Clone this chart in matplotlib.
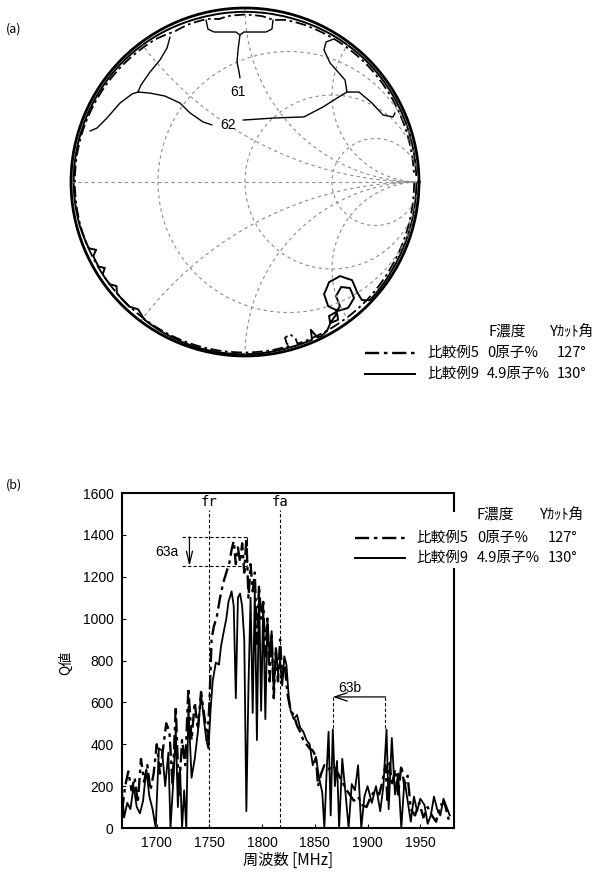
import numpy as np
import matplotlib
matplotlib.use("Agg")
import matplotlib.pyplot as plt
from matplotlib import font_manager as fm
from matplotlib.path import Path
from matplotlib.patches import PathPatch, Rectangle
from matplotlib.lines import Line2D

# ------------------------------------------------------------------ data
# (a) Smith chart grid values
smith_r = [1/3, 1, 3]
smith_x = [0.5, 1, 2, -0.5, -1, -2]

# (a) reflection-coefficient trajectories (angle [deg], |Gamma|)
ex9_ang = [0, -15, -30, -38, -43.4, -45.3, -44.5, -42.5, -44.7, -50.0, -54.8, -56.2,
           -54.2, -50.7, -46.8, -45.3, -47.5, -51.4, -52.6, -55.0, -57.9, -58.9,
           -56.0, -54.9, -58.5, -61.2, -63.6, -65, -66, -67, -75, -90, -105, -118,
           -126, -130, -133, -139, -141, -143, -147, -148.5, -150, -154, -155.5,
           -157, -165, -180, 165, 150, 135, 120, 105, 90, 75, 60, 45, 30, 15, 2]
ex9_mag = [0.985, 0.985, 0.985, 0.987, 0.988, 0.955, 0.902, 0.834, 0.768, 0.751, 0.788,
           0.858, 0.913, 0.935, 0.915, 0.857, 0.818, 0.838, 0.898, 0.912, 0.909, 0.946,
           0.956, 0.920, 0.944, 0.977, 0.988, 0.985, 0.93, 0.985, 0.985, 0.99, 0.99,
           0.985, 0.98, 0.955, 0.978, 0.975, 0.95, 0.975, 0.975, 0.945, 0.972, 0.97,
           0.94, 0.975, 0.982, 0.985, 0.985, 0.985, 0.985, 0.982, 0.978, 0.978, 0.978,
           0.982, 0.985, 0.985, 0.985, 0.985]
ex5_ang = [0, -15, -30, -45, -58, -66, -72, -72.1, -73.5, -75.6, -75.5, -74.5, -80, -90,
           -105, -120, -135, -150, -165, -180, 165, 150, 135, 122, 115, 110, 103, 99, 96,
           90, 84, 80, 76, 70, 60, 45, 30, 15, 2]
ex5_mag = [0.972, 0.972, 0.972, 0.975, 0.975, 0.976, 0.977, 0.946, 0.913, 0.924, 0.960,
           0.975, 0.978, 0.98, 0.98, 0.978, 0.975, 0.975, 0.978, 0.978, 0.978, 0.975,
           0.972, 0.968, 0.955, 0.962, 0.962, 0.948, 0.958, 0.962, 0.958, 0.945, 0.96,
           0.965, 0.968, 0.972, 0.972, 0.972, 0.972]

# (b) Q value vs frequency
ex5_f = [1667, 1670, 1673, 1676, 1679, 1682, 1685, 1688, 1691, 1694, 1697, 1700, 1703,
         1706, 1709, 1712, 1715, 1718, 1721, 1724, 1727, 1730, 1733, 1736, 1739, 1742,
         1745, 1748, 1750, 1752, 1754, 1757, 1760, 1763, 1766, 1769, 1771, 1773, 1775,
         1777, 1779, 1781, 1783, 1785, 1787, 1789, 1791, 1793, 1795, 1797, 1799, 1801,
         1803, 1805, 1807, 1809, 1811, 1813, 1815, 1817, 1819, 1821, 1824, 1827, 1830,
         1833, 1836, 1839, 1842, 1845, 1848, 1851, 1853, 1856, 1859, 1863, 1867, 1871,
         1875, 1879, 1883, 1887, 1891, 1895, 1899, 1903, 1907, 1911, 1914, 1917, 1919,
         1921, 1923, 1926, 1929, 1932, 1935, 1938, 1941, 1945, 1949, 1953, 1957, 1961,
         1965, 1969, 1973, 1977]
ex5_q = [80, 200, 270, 180, 240, 120, 330, 220, 300, 180, 260, 400, 260, 380, 500, 460,
         200, 580, 160, 420, 300, 670, 420, 600, 470, 650, 540, 420, 600, 900, 960, 1010,
         1100, 1170, 1220, 1270, 1330, 1370, 1260, 1340, 1270, 1360, 1220, 1385, 1100,
         1260, 1130, 1220, 880, 1160, 1000, 1080, 820, 1000, 700, 920, 620, 860, 700, 900,
         720, 800, 640, 560, 540, 490, 460, 420, 400, 380, 370, 340, 200, 260, 300, 280,
         300, 270, 230, 190, 160, 130, 150, 110, 100, 150, 180, 160, 220, 300, 120, 310,
         200, 280, 160, 300, 200, 250, 90, 60, 120, 50, 100, 60, 30, 110, 120, 40]
ex9_f = [1667, 1669, 1672, 1675, 1678, 1681, 1684, 1687, 1690, 1693, 1696, 1699, 1702,
         1705, 1708, 1711, 1713, 1716, 1718, 1720, 1722, 1724, 1726, 1728, 1730, 1733,
         1736, 1739, 1742, 1744, 1747, 1749, 1751, 1753, 1756, 1759, 1761, 1764, 1766,
         1768, 1771, 1773, 1775, 1777, 1779, 1781, 1783, 1785, 1787, 1789, 1791, 1793,
         1795, 1797, 1799, 1801, 1803, 1805, 1807, 1809, 1811, 1813, 1815, 1817, 1819,
         1821, 1823, 1825, 1827, 1830, 1833, 1836, 1839, 1842, 1845, 1848, 1851, 1854,
         1857, 1859, 1861, 1863, 1865, 1867, 1869, 1871, 1873, 1876, 1879, 1882, 1885,
         1888, 1891, 1894, 1897, 1900, 1904, 1908, 1912, 1915, 1918, 1920, 1923, 1926,
         1929, 1932, 1935, 1938, 1941, 1944, 1947, 1950, 1954, 1957, 1960, 1963, 1966,
         1969, 1972, 1975, 1978]
ex9_q = [180, 50, 120, 90, 200, 100, 70, 130, 280, 150, 90, 0, 380, 370, 200, 360, 0,
         250, 470, 100, 290, 0, 180, 0, 580, 240, 330, 460, 640, 550, 420, 380, 560, 700,
         790, 780, 870, 950, 1000, 1080, 1130, 1060, 620, 1100, 1120, 1060, 900, 80, 680,
         1100, 550, 1130, 420, 1150, 560, 1070, 520, 1000, 820, 940, 640, 860, 740, 800,
         680, 820, 780, 640, 560, 520, 540, 480, 460, 420, 400, 300, 340, 240, 170, 0, 250,
         460, 60, 470, 200, 320, 0, 330, 170, 0, 210, 180, 300, 0, 150, 200, 120, 200, 80,
         200, 470, 90, 430, 160, 260, 0, 230, 130, 30, 150, 80, 140, 110, 20, 60, 150, 90,
         60, 140, 100, 60]

fr_mhz, fa_mhz = 1750, 1817
mark_63a = (1390, 1250)        # Q levels
mark_63b = (1867, 1917)        # MHz
x_ticks = [1700, 1750, 1800, 1850, 1900, 1950]
y_ticks = list(range(0, 1601, 200))

leg_names = ["比較例5", "比較例9"]
leg_conc = ["0原子%", "4.9原子%"]
leg_cut = ["127°", "130°"]
leg_head = ["F濃度", "Yｶｯﾄ角"]

# ------------------------------------------------------------------ style
W, H = 596, 872
installed = {f.name for f in fm.fontManager.ttflist}
NUM = "Liberation Sans Narrow" if "Liberation Sans Narrow" in installed else "Liberation Sans"
JP = ["Noto Sans CJK JP", "DejaVu Sans"]
plt.rcParams["font.family"] = JP
DASHDOT = (0, (6, 2, 1.5, 2))
GRID = dict(color="#8c8c8c", lw=0.8, ls=(0, (3, 3)))

fig = plt.figure(figsize=(W / 100, H / 100), dpi=100)


def fx(x):
    return x / W


def fy(y):
    return 1 - y / H


def rect(l, t, r, b):
    return [fx(l), fy(b), (r - l) / W, (b - t) / H]


# ------------------------------------------------------------------ (a)
sm = fig.add_axes(rect(71, 8, 419, 356), projection="polar")
sm.set_ylim(0, 1)
sm.set_xticks([])
sm.set_yticks([])
sm.grid(False)
sm.spines["polar"].set_linewidth(2.0)


def gamma(z):
    return (z - 1) / (z + 1)


tt = np.concatenate([-np.geomspace(1e4, 1e-4, 700), [0], np.geomspace(1e-4, 1e4, 700)])
for rv in smith_r:
    g = gamma(rv + 1j * tt)
    sm.plot(np.unwrap(np.angle(g)), np.abs(g), **GRID)
rr = np.concatenate([[0], np.geomspace(1e-4, 1e4, 900)])
for xv in smith_x:
    g = gamma(rr + 1j * xv)
    sm.plot(np.angle(g), np.abs(g), **GRID)
sm.plot([np.pi, np.pi], [1, 0], **GRID)
sm.plot([0, 0], [0, 1], **GRID)


def traj(ang, mag):
    th = np.unwrap(np.radians(ang))
    return Path(np.column_stack([th, mag]), _interpolation_steps=24)


sm.add_patch(PathPatch(traj(ex5_ang, ex5_mag), facecolor="none", edgecolor="k",
                       lw=1.3, ls=DASHDOT, joinstyle="round"))
sm.add_patch(PathPatch(traj(ex9_ang, ex9_mag), facecolor="none", edgecolor="k",
                       lw=1.4, joinstyle="round"))

# leader lines for 61 / 62 (Gamma-plane coordinates)
ov = fig.add_axes(rect(71, 8, 419, 356))
ov.set_xlim(-1, 1)
ov.set_ylim(-1, 1)
ov.axis("off")
lead = dict(color="k", lw=1.0, solid_capstyle="round", solid_joinstyle="round")
ov.plot([-0.224, -0.213, -0.178, -0.052, -0.029, -0.006, 0.121, 0.155, 0.161],
        [0.931, 0.879, 0.862, 0.862, 0.845, 0.862, 0.862, 0.879, 0.931], **lead)
ov.plot([-0.029, -0.040, -0.046, -0.034, -0.029], [0.845, 0.759, 0.690, 0.632, 0.598], **lead)
ov.text(-0.040, 0.517, "61", ha="center", va="center", fontsize=10, family=NUM)
ov.plot([-0.190, -0.241, -0.316, -0.374, -0.460, -0.546, -0.615],
        [0.328, 0.345, 0.397, 0.454, 0.494, 0.511, 0.517], **lead)
ov.plot([-0.615, -0.598, -0.546, -0.489, -0.448, -0.431],
        [0.517, 0.557, 0.632, 0.701, 0.770, 0.833], **lead)
ov.plot([-0.615, -0.649, -0.718, -0.793, -0.851, -0.891],
        [0.517, 0.506, 0.454, 0.368, 0.310, 0.293], **lead)
ov.text(-0.098, 0.328, "62", ha="center", va="center", fontsize=10, family=NUM)
ov.plot([-0.011, 0.172, 0.339, 0.448, 0.557, 0.586],
        [0.356, 0.368, 0.374, 0.431, 0.500, 0.517], **lead)
ov.plot([0.586, 0.575, 0.489, 0.454, 0.466, 0.511],
        [0.517, 0.586, 0.684, 0.759, 0.805, 0.822], **lead)
ov.plot([0.586, 0.655, 0.730, 0.793, 0.851, 0.862],
        [0.517, 0.517, 0.454, 0.385, 0.374, 0.397], **lead)

# ------------------------------------------------------------------ (b)
ax = fig.add_axes(rect(122, 493, 454, 828))
ax.plot(ex5_f, ex5_q, color="k", lw=1.7, ls=DASHDOT)
ax.plot(ex9_f, ex9_q, color="k", lw=1.3)
ax.set_xlim(1667, 1982)
ax.set_ylim(0, 1600)
ax.set_xticks(x_ticks)
ax.set_yticks(y_ticks)
ax.tick_params(direction="in", length=3, width=0.8, pad=6, labelsize=10)
for lab in ax.get_xticklabels() + ax.get_yticklabels():
    lab.set_family(NUM)
for s in ax.spines.values():
    s.set_linewidth(1.5)

vd = dict(color="k", lw=0.8, ls=(0, (3, 2)))
ax.plot([fr_mhz, fr_mhz], [0, 1520], **vd)
ax.plot([fa_mhz, fa_mhz], [0, 1520], **vd)
ax.text(fr_mhz, 1555, "fr", ha="center", va="center", fontsize=10, family="DejaVu Sans Mono")
ax.text(fa_mhz, 1555, "fa", ha="center", va="center", fontsize=10, family="DejaVu Sans Mono")
ax.plot([1724, 1786], [mark_63a[0]] * 2, **vd)
ax.plot([1724, 1786], [mark_63a[1]] * 2, **vd)
ax.plot([1786, 1786], list(mark_63a), **vd)
ax.annotate("", xy=(1731, mark_63a[1]), xytext=(1731, mark_63a[0]),
            arrowprops=dict(arrowstyle="->,head_length=0.9,head_width=0.22", lw=0.9, color="k",
                            shrinkA=0, shrinkB=0))
ax.text(1721, 1318, "63a", ha="right", va="center", fontsize=10, family=NUM)
ax.annotate("", xy=(mark_63b[0], 626), xytext=(mark_63b[1], 626),
            arrowprops=dict(arrowstyle="->,head_length=0.9,head_width=0.3", lw=0.9, color="k",
                            shrinkA=0, shrinkB=0))
ax.plot([mark_63b[0]] * 2, [626, 470], **vd)
ax.plot([mark_63b[1]] * 2, [626, 470], **vd)
ax.text(1883, 669, "63b", ha="center", va="center", fontsize=10, family=NUM)

# white legend box covering the right spine
fig.add_artist(Rectangle((fx(345), fy(568)), (596 - 345) / W, (568 - 512) / H,
                         transform=fig.transFigure, facecolor="white", edgecolor="none",
                         zorder=2))

# ------------------------------------------------------------------ texts & legends
fs = 10.5


def legend_table(yh, y1, y2, xl0, xl1, xn, xc, xd, xh1, xh2):
    fig.text(fx(xh1), fy(yh), leg_head[0], ha="left", va="center", fontsize=fs, zorder=3)
    fig.text(fx(xh2), fy(yh), leg_head[1], ha="left", va="center", fontsize=fs, zorder=3)
    for i, (yy, st) in enumerate([(y1, DASHDOT), (y2, "-")]):
        fig.add_artist(Line2D([fx(xl0), fx(xl1)], [fy(yy), fy(yy)], transform=fig.transFigure,
                              color="k", lw=1.7 if i == 0 else 1.4, ls=st, zorder=3))
        fig.text(fx(xn), fy(yy), leg_names[i], ha="left", va="center", fontsize=fs, zorder=3)
        fig.text(fx(xc), fy(yy), leg_conc[i], ha="left", va="center", fontsize=fs, zorder=3)
        fig.text(fx(xd), fy(yy), leg_cut[i], ha="right", va="center", fontsize=fs, zorder=3)


legend_table(332, 353, 374, 365, 415, 427, 487, 586, 488, 550)
legend_table(515, 538, 558, 355, 405, 416, 477, 577, 477, 540)

fig.text(fx(6), fy(29), "(a)", ha="left", va="center", fontsize=9)
fig.text(fx(6), fy(485), "(b)", ha="left", va="center", fontsize=9)
fig.text(fx(66), fy(663), "Q値", rotation=90, ha="center", va="center", fontsize=10)
fig.text(fx(288), fy(860), "周波数 [MHz]", ha="center", va="center", fontsize=11)

fig.savefig("out.png", dpi=100)
